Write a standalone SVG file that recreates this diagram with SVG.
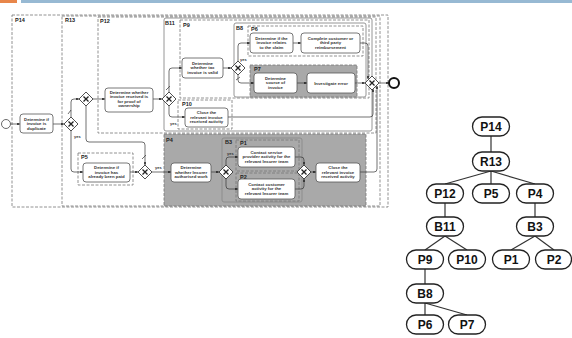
<svg xmlns="http://www.w3.org/2000/svg" width="572" height="338" viewBox="0 0 572 338">
<defs>
<marker id="ah" viewBox="0 0 6 6" refX="6" refY="3" markerWidth="4" markerHeight="4" orient="auto"><path d="M0,0 L6,3 L0,6 z" fill="#222"/></marker>
<style>
.pool{fill:none;stroke:#777;stroke-width:0.8;stroke-dasharray:3,1.5}
.grey{fill:#a9a9a9;stroke:#777;stroke-width:0.8;stroke-dasharray:3,1.5}
.blk{fill:none;stroke:#8a8a8a;stroke-width:0.9}
.lbl{font-family:"Liberation Sans",Arial,sans-serif;font-size:5.5px;font-weight:bold;fill:#222}
.task{fill:#fff;stroke:#555;stroke-width:0.8}
.tt{font-family:"Liberation Sans",Arial,sans-serif;font-size:4.3px;font-weight:bold;fill:#333;text-anchor:middle}
.fl{fill:none;stroke:#333;stroke-width:0.7;marker-end:url(#ah)}
.fl2{fill:none;stroke:#333;stroke-width:0.7}
.gw{fill:#fff;stroke:#222;stroke-width:0.8}
.gx{stroke:#222;stroke-width:1.3}
.yes{font-family:"Liberation Sans",Arial,sans-serif;font-size:4px;font-weight:bold;fill:#333}
.pill{fill:#fff;stroke:#222;stroke-width:1.3}
.pt{font-family:"Liberation Sans",Arial,sans-serif;font-size:12px;font-weight:bold;fill:#111;text-anchor:middle}
.te{stroke:#333;stroke-width:1.2}
</style>
</defs>
<rect x="0" y="0" width="17" height="3" fill="#e8864a"/>
<rect x="21" y="0" width="551" height="3" fill="#97b9d3"/>

<g id="containers">
<g id="P14"><rect class="pool" x="12" y="15" width="376" height="192"/><text class="lbl" x="15" y="22">P14</text></g>
<g id="R13"><rect class="pool" x="62" y="16" width="318" height="190"/><text class="lbl" x="65" y="22">R13</text></g>
<g id="P12"><rect class="pool" x="98" y="17" width="278" height="116"/><text class="lbl" x="100" y="23">P12</text></g>
<g id="B11"><rect class="blk" x="164" y="18" width="208" height="113" rx="2"/><text class="lbl" x="165" y="25">B11</text></g>
<g id="P9"><rect class="pool" x="180" y="20" width="189" height="78"/><text class="lbl" x="183" y="27">P9</text></g>
<g id="B8"><rect class="blk" x="234" y="23" width="132" height="74" rx="2"/><text class="lbl" x="236" y="30">B8</text></g>
<g id="P6"><rect class="pool" x="248" y="26" width="115" height="30"/><text class="lbl" x="251" y="31">P6</text></g>
<g id="P7"><rect class="grey" x="250" y="65" width="107" height="32"/><text class="lbl" x="254" y="71">P7</text></g>
<g id="P10"><rect class="pool" x="178" y="100" width="54" height="29"/><text class="lbl" x="182" y="106">P10</text></g>
<g id="P5"><rect class="pool" x="78" y="153" width="55" height="32"/><text class="lbl" x="81" y="159">P5</text></g>
<g id="P4"><rect class="grey" x="164" y="134" width="202" height="72"/><text class="lbl" x="166" y="142">P4</text></g>
<g id="B3"><rect class="blk" x="222" y="138" width="80" height="64" rx="2"/><text class="lbl" x="225" y="144">B3</text></g>
<g id="P1"><rect class="pool" x="236" y="140" width="63" height="31"/><text class="lbl" x="240" y="145">P1</text></g>
<g id="P2"><rect class="pool" x="236" y="173" width="63" height="28"/><text class="lbl" x="240" y="179">P2</text></g>
</g>

<g id="connectors">
<path class="fl" d="M10.5,124 H20"/>
<path class="fl" d="M53,124 H64"/>
<path class="fl" d="M71,117 V102 Q71,99 74,99 H79"/>
<path class="fl2" d="M68,114 L71,110"/>
<path class="fl" d="M71,131 V169 Q71,172 74,172 H83"/>
<path class="fl" d="M93,99 H105"/>
<path class="fl" d="M86,106 V139 Q86,142 89,142 H142 Q145,142 145,145 V165"/>
<path class="fl2" d="M142,159 L146,155"/>
<path class="fl" d="M130,172 H138"/>
<path class="fl" d="M152,172 H171"/>
<path class="fl" d="M153,99 H162"/>
<path class="fl" d="M169,92 V71 Q169,68 172,68 H182"/>
<path class="fl2" d="M166,90 L170,86"/>
<path class="fl" d="M169,106 V114 Q169,117 172,117 H185"/>
<path class="fl" d="M223,68 H231"/>
<path class="fl" d="M238,61 V46 Q238,43 241,43 H250"/>
<path class="fl" d="M238,75 V80 Q238,83 241,83 H254"/>
<path class="fl2" d="M236,80 L240,77"/>
<path class="fl" d="M293,43 H301"/>
<path class="fl" d="M360,43 H365 Q368,43 368,46 V79"/>
<path class="fl" d="M297,83 H307"/>
<path class="fl" d="M355,83 H365"/>
<path class="fl" d="M228,117 H370 Q373,117 373,114 V89"/>
<path class="fl" d="M379,83 H389"/>
<path class="fl" d="M211,172 H219"/>
<path class="fl" d="M226,165 V160 Q226,157 229,157 H238"/>
<path class="fl" d="M226,179 V186 Q226,189 229,189 H238"/>
<path class="fl" d="M295,157 H301 Q304,157 304,160 V165"/>
<path class="fl" d="M295,189 H301 Q304,189 304,186 V179"/>
<path class="fl" d="M311,172 H316"/>
<path class="fl" d="M360,172 H374 Q377,172 377,169 V86"/>
<text class="yes" x="74" y="138">yes</text>
<text class="yes" x="155" y="169">yes</text>
<text class="yes" x="170" y="125">yes</text>
<text class="yes" x="240" y="61">yes</text>
<text class="yes" x="227" y="155">yes</text>
</g>

<g id="events">
<circle cx="6" cy="124" r="4.5" fill="#fff" stroke="#444" stroke-width="0.8"/>
<circle cx="394" cy="83" r="5" fill="#fff" stroke="#111" stroke-width="2"/>
</g>

<g id="gateways">
<g id="G1"><path class="gw" d="M71,117 L78,124 L71,131 L64,124 z"/><path class="gx" d="M68.5,121.5 L73.5,126.5 M73.5,121.5 L68.5,126.5"/></g>
<g id="G2"><path class="gw" d="M86,92 L93,99 L86,106 L79,99 z"/><path class="gx" d="M83.5,96.5 L88.5,101.5 M88.5,96.5 L83.5,101.5"/></g>
<g id="G3"><path class="gw" d="M145,165 L152,172 L145,179 L138,172 z"/><path class="gx" d="M142.5,169.5 L147.5,174.5 M147.5,169.5 L142.5,174.5"/></g>
<g id="G4"><path class="gw" d="M169,92 L176,99 L169,106 L162,99 z"/><path class="gx" d="M166.5,96.5 L171.5,101.5 M171.5,96.5 L166.5,101.5"/></g>
<g id="G5"><path class="gw" d="M238,61 L245,68 L238,75 L231,68 z"/><path class="gx" d="M235.5,65.5 L240.5,70.5 M240.5,65.5 L235.5,70.5"/></g>
<g id="G6"><path class="gw" d="M372,76 L379,83 L372,90 L365,83 z"/><path class="gx" d="M369.5,80.5 L374.5,85.5 M374.5,80.5 L369.5,85.5"/></g>
<g id="G7"><path class="gw" d="M226,165 L233,172 L226,179 L219,172 z"/><path class="gx" d="M223.5,169.5 L228.5,174.5 M228.5,169.5 L223.5,174.5"/></g>
<g id="G8"><path class="gw" d="M304,165 L311,172 L304,179 L297,172 z"/><path class="gx" d="M301.5,169.5 L306.5,174.5 M306.5,169.5 L301.5,174.5"/></g>
</g>

<g id="tasks">
<g id="t1"><rect class="task" x="20" y="114" width="33" height="19" rx="3"/><text class="tt"><tspan x="36.5" y="120.5">Determine if</tspan><tspan x="36.5" y="125">invoice is</tspan><tspan x="36.5" y="129.5">duplicate</tspan></text></g>
<g id="t2"><rect class="task" x="105" y="88" width="48" height="24" rx="3"/><text class="tt"><tspan x="129" y="93.5">Determine whether</tspan><tspan x="129" y="98">invoice received is</tspan><tspan x="129" y="102.5">for proof of</tspan><tspan x="129" y="107">ownership</tspan></text></g>
<g id="t3"><rect class="task" x="182" y="58" width="41" height="20" rx="3"/><text class="tt"><tspan x="202.5" y="64.5">Determine</tspan><tspan x="202.5" y="69">whether tax</tspan><tspan x="202.5" y="73.5">invoice is valid</tspan></text></g>
<g id="t4"><rect class="task" x="185" y="108" width="43" height="19" rx="3"/><text class="tt"><tspan x="206.5" y="114">Close the</tspan><tspan x="206.5" y="118.5">relevant invoice</tspan><tspan x="206.5" y="123">received activity</tspan></text></g>
<g id="t5"><rect class="task" x="250" y="33" width="43" height="20" rx="3"/><text class="tt"><tspan x="271.5" y="39.5">Determine if the</tspan><tspan x="271.5" y="44">invoice relates</tspan><tspan x="271.5" y="48.5">to the claim</tspan></text></g>
<g id="t6"><rect class="task" x="301" y="33" width="59" height="20" rx="3"/><text class="tt"><tspan x="330.5" y="39.5">Complete customer or</tspan><tspan x="330.5" y="44">third party</tspan><tspan x="330.5" y="48.5">reimbursement</tspan></text></g>
<g id="t7"><rect class="task" x="254" y="73" width="43" height="20" rx="3"/><text class="tt"><tspan x="275.5" y="79.5">Determine</tspan><tspan x="275.5" y="84">source of</tspan><tspan x="275.5" y="88.5">invoice</tspan></text></g>
<g id="t8"><rect class="task" x="307" y="73" width="48" height="20" rx="3"/><text class="tt" x="331" y="84.5">Investigate error</text></g>
<g id="t9"><rect class="task" x="83" y="163" width="47" height="19" rx="3"/><text class="tt"><tspan x="106.5" y="169">Determine if</tspan><tspan x="106.5" y="173.5">invoice has</tspan><tspan x="106.5" y="178">already been paid</tspan></text></g>
<g id="t10"><rect class="task" x="171" y="163" width="40" height="19" rx="3"/><text class="tt"><tspan x="191" y="169">Determine</tspan><tspan x="191" y="173.5">whether Insurer</tspan><tspan x="191" y="178">authorised work</tspan></text></g>
<g id="t11"><rect class="task" x="238" y="147" width="57" height="20" rx="3"/><text class="tt"><tspan x="266.5" y="153.5">Contact service</tspan><tspan x="266.5" y="158">provider activity for the</tspan><tspan x="266.5" y="162.5">relevant Insurer team</tspan></text></g>
<g id="t12"><rect class="task" x="238" y="179" width="57" height="20" rx="3"/><text class="tt"><tspan x="266.5" y="185.5">Contact customer</tspan><tspan x="266.5" y="190">activity for the</tspan><tspan x="266.5" y="194.5">relevant Insurer team</tspan></text></g>
<g id="t13"><rect class="task" x="316" y="163" width="44" height="19" rx="3"/><text class="tt"><tspan x="338" y="169">Close the</tspan><tspan x="338" y="173.5">relevant invoice</tspan><tspan x="338" y="178">received activity</tspan></text></g>
</g>

<g id="tree-edges">
<line class="te" x1="491" y1="136" x2="491" y2="152"/>
<line class="te" x1="491" y1="171" x2="445" y2="184"/>
<line class="te" x1="491" y1="171" x2="491" y2="184"/>
<line class="te" x1="491" y1="171" x2="535" y2="184"/>
<line class="te" x1="445" y1="203" x2="445" y2="217"/>
<line class="te" x1="535" y1="203" x2="535" y2="217"/>
<line class="te" x1="445" y1="236" x2="425" y2="250"/>
<line class="te" x1="445" y1="236" x2="467" y2="250"/>
<line class="te" x1="535" y1="236" x2="511" y2="250"/>
<line class="te" x1="535" y1="236" x2="554" y2="250"/>
<line class="te" x1="425" y1="269" x2="425" y2="284"/>
<line class="te" x1="425" y1="303" x2="425" y2="315"/>
<line class="te" x1="425" y1="303" x2="467" y2="315"/>
</g>

<g id="tree-nodes">
<g id="nP14"><rect class="pill" x="472.5" y="117" width="37" height="19" rx="9.5"/><text class="pt" x="491" y="131">P14</text></g>
<g id="nR13"><rect class="pill" x="472.5" y="152" width="37" height="19" rx="9.5"/><text class="pt" x="491" y="166">R13</text></g>
<g id="nP12"><rect class="pill" x="426.5" y="184" width="37" height="19" rx="9.5"/><text class="pt" x="445" y="198">P12</text></g>
<g id="nP5"><rect class="pill" x="472.5" y="184" width="37" height="19" rx="9.5"/><text class="pt" x="491" y="198">P5</text></g>
<g id="nP4"><rect class="pill" x="516.5" y="184" width="37" height="19" rx="9.5"/><text class="pt" x="535" y="198">P4</text></g>
<g id="nB11"><rect class="pill" x="426.5" y="217" width="37" height="19" rx="9.5"/><text class="pt" x="445" y="231">B11</text></g>
<g id="nB3"><rect class="pill" x="516.5" y="217" width="37" height="19" rx="9.5"/><text class="pt" x="535" y="231">B3</text></g>
<g id="nP9"><rect class="pill" x="406.5" y="250" width="37" height="19" rx="9.5"/><text class="pt" x="425" y="264">P9</text></g>
<g id="nP10"><rect class="pill" x="448.5" y="250" width="37" height="19" rx="9.5"/><text class="pt" x="467" y="264">P10</text></g>
<g id="nP1"><rect class="pill" x="492.5" y="250" width="37" height="19" rx="9.5"/><text class="pt" x="511" y="264">P1</text></g>
<g id="nP2"><rect class="pill" x="535.5" y="250" width="36" height="19" rx="9.5"/><text class="pt" x="554" y="264">P2</text></g>
<g id="nB8"><rect class="pill" x="406.5" y="284" width="37" height="19" rx="9.5"/><text class="pt" x="425" y="298">B8</text></g>
<g id="nP6"><rect class="pill" x="406.5" y="315" width="37" height="19" rx="9.5"/><text class="pt" x="425" y="329">P6</text></g>
<g id="nP7"><rect class="pill" x="448.5" y="315" width="37" height="19" rx="9.5"/><text class="pt" x="467" y="329">P7</text></g>
</g>
</svg>
